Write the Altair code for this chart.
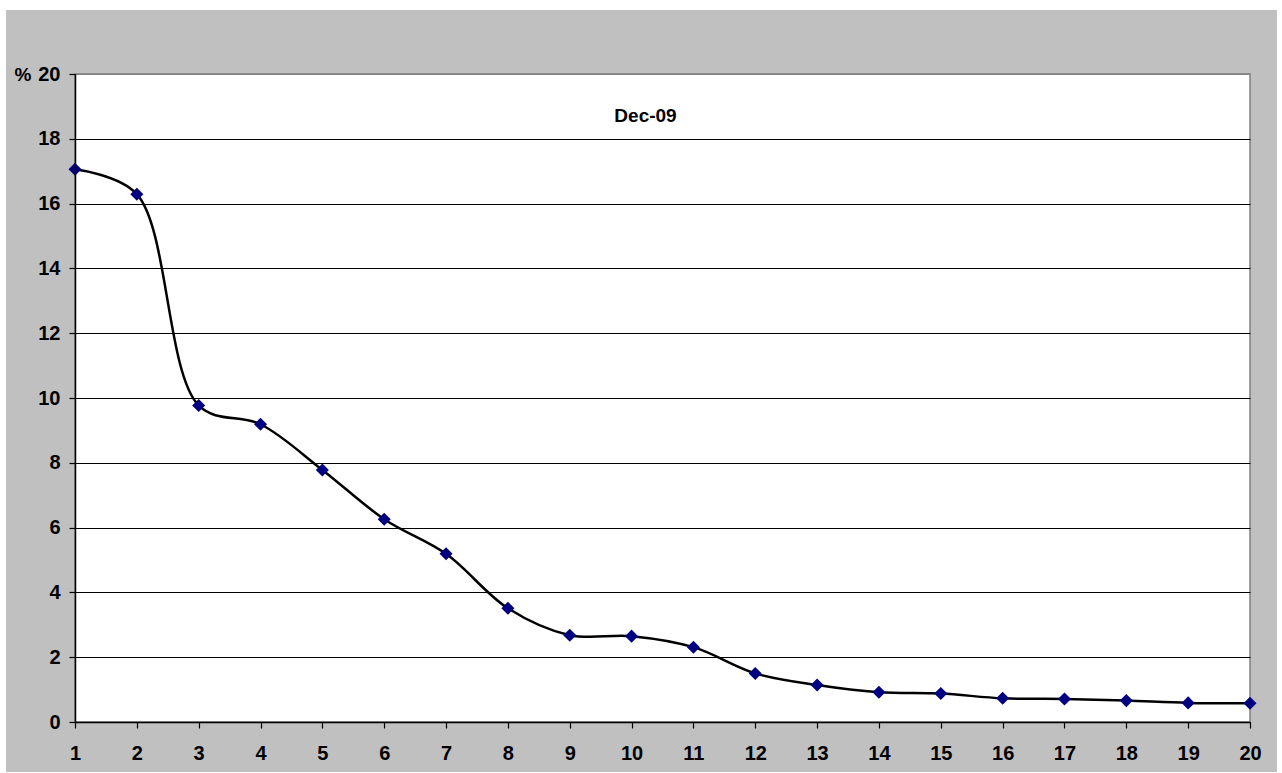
import altair as alt
import pandas as pd

# Share of total (%) by rank, December 2009
ranks = list(range(1, 21))
share = [17.06, 16.29, 9.77, 9.19, 7.78, 6.26, 5.19, 3.51, 2.68, 2.65,
         2.31, 1.50, 1.14, 0.92, 0.88, 0.73, 0.71, 0.66, 0.59, 0.58]
y_ticks = list(range(0, 21, 2))
title_text = "Dec-09"

W, H = 1175, 648
FONT = "Liberation Sans"

df = pd.DataFrame({"rank": ranks, "share": share})
one = pd.DataFrame({"k": [0]})

x_enc = alt.X(
    "rank:Q",
    scale=alt.Scale(domain=[1, 20], nice=False, zero=False),
    axis=alt.Axis(values=ranks, format="d", title=None, grid=False, tickSize=6,
                  labelPadding=15, labelFlush=False, zindex=1),
)
y_enc = alt.Y(
    "share:Q",
    scale=alt.Scale(domain=[0, 20], nice=False),
    axis=alt.Axis(
        values=y_ticks, format="d", title="%", titleAngle=0, titleX=-44, titleY=0,
        titleAlign="right", titleBaseline="middle", tickSize=6,
        labelPadding=9, labelFlush=False, zindex=1,
        gridColor=alt.condition("datum.value == 20", alt.value("#808080"), alt.value("#000000")),
    ),
)

# grey chart frame and white plot panel
frame = alt.Chart(one).mark_rect(color="#C0C0C0").encode(
    x=alt.value(-69), x2=alt.value(W + 27), y=alt.value(-64), y2=alt.value(H + 50)
)
panel = alt.Chart(one).mark_rect(fill="#FFFFFF", stroke="#808080", strokeWidth=1.5).encode(
    x=alt.value(0), x2=alt.value(W), y=alt.value(0), y2=alt.value(H)
)

line = alt.Chart(df).mark_line(color="#000000", strokeWidth=2.5, interpolate="catmull-rom").encode(
    x=x_enc, y=y_enc
)
points = alt.Chart(df).mark_point(shape="diamond", filled=True, color="#000080",
                                  size=170, opacity=1).encode(x="rank:Q", y="share:Q")

chart = alt.layer(frame, panel, line, points).properties(
    width=W, height=H,
    autosize=alt.AutoSizeParams(type="none"),
    padding={"left": 75, "top": 74, "right": 32, "bottom": 51},
    background="#FFFFFF",
    title=alt.TitleParams(title_text, frame="group", anchor="middle", dx=-17,
                          offset=-131, baseline="alphabetic",
                          font=FONT, fontSize=19, fontWeight="bold", color="#000000"),
).configure_view(stroke=None).configure_axis(
    labelFont=FONT, labelFontSize=20, labelFontWeight="bold", labelColor="#000000",
    titleFont=FONT, titleFontSize=19, titleFontWeight="bold", titleColor="#000000",
    domainColor="#000000", domainWidth=1.5, tickColor="#000000", tickWidth=1.2,
    gridWidth=1,
)

chart.save("out.html", embed_options={"renderer": "svg", "actions": False})
